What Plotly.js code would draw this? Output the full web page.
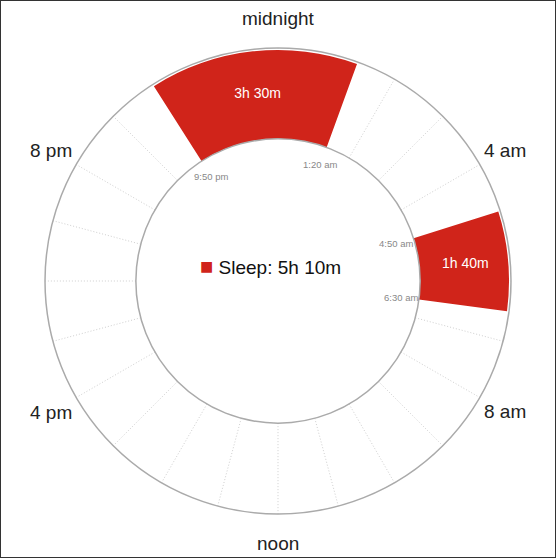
<!DOCTYPE html>
<html>
<head>
<meta charset="utf-8">
<script src="https://cdn.plot.ly/plotly-3.0.1.min.js"></script>
<style>
  body { margin: 0; background: #fff; }
  #frame { width: 554px; height: 556px; border: 1px solid #333; }
  #chart { width: 554px; height: 556px; }
</style>
</head>
<body>
<div id="frame"><div id="chart"></div></div>
<script>
// sleep periods, clock time
const sleepStart = ['21:50', '04:50'];
const sleepEnd = ['01:20', '06:30'];
const hourTicks = [0, 4, 8, 12, 16, 20];
const hourTickText = ['midnight', '4 am', '8 am', 'noon', '4 pm', '8 pm'];

const red = '#d0241a';
const W = 554, H = 556;
const margin = { l: 44, r: 44, t: 47, b: 43 };
const side = W - margin.l - margin.r; // 466, square plot area

const toMin = s => { const p = s.split(':'); return (+p[0]) * 60 + (+p[1]); };
const fmtDur = m => Math.floor(m / 60) + 'h ' + (m % 60) + 'm';
const fmtClock = m => {
    const h = Math.floor(m / 60), mm = m % 60;
    const h12 = h % 12 === 0 ? 12 : h % 12;
    return h12 + ':' + String(mm).padStart(2, '0') + (h < 12 ? ' am' : ' pm');
};

const starts = sleepStart.map(toMin);
const durs = sleepEnd.map((e, i) => (toMin(e) - starts[i] + 1440) % 1440);
const mids = starts.map((s, i) => ((s + durs[i] / 2) % 1440) / 4);   // degrees
const widths = durs.map(d => d / 4);
const total = durs.reduce((a, b) => a + b, 0);

// paper position for an angle (degrees, clockwise from top) at pixel radius
function polarPaper(deg, rpx) {
    const a = deg * Math.PI / 180;
    return { x: 0.5 + rpx * Math.sin(a) / side, y: 0.5 + rpx * Math.cos(a) / side };
}

const annotations = [];
hourTicks.forEach((h, i) => {
    const p = polarPaper(h * 15, 262);
    annotations.push({
        x: p.x, y: p.y, xref: 'paper', yref: 'paper', showarrow: false,
        text: hourTickText[i], xanchor: 'center', yanchor: 'middle',
        font: { size: 19, color: '#222' }
    });
});
starts.forEach((s, i) => {
    [s, (s + durs[i]) % 1440].forEach(m => {
        const p = polarPaper(m / 4, 124);
        annotations.push({
            x: p.x, y: p.y, xref: 'paper', yref: 'paper', showarrow: false,
            text: fmtClock(m), xanchor: 'center', yanchor: 'middle',
            font: { size: 9.5, color: '#888' }
        });
    });
});
annotations.push({
    x: 0.483, y: 0.532, xref: 'paper', yref: 'paper', showarrow: false,
    xanchor: 'center', yanchor: 'middle',
    text: '<span style="color:' + red + ';font-size:22px">■</span> Sleep: ' + fmtDur(total),
    font: { size: 19, color: '#111' }
});

const traces = [
    {
        type: 'barpolar',
        r: durs.map(() => 0.978),
        base: durs.map(() => 0),
        theta: mids,
        width: widths,
        marker: { color: red, line: { width: 0 } },
        hoverinfo: 'skip',
        showlegend: false
    },
    {
        type: 'scatterpolar',
        mode: 'text',
        r: durs.map(() => 0.505),
        theta: mids,
        text: durs.map(fmtDur),
        textfont: { size: 14, color: '#fff' },
        hoverinfo: 'skip',
        showlegend: false
    }
];

const layout = {
    width: W, height: H,
    margin: margin,
    paper_bgcolor: '#fff',
    font: { family: "'Liberation Sans', Arial, sans-serif" },
    showlegend: false,
    polar: {
        domain: { x: [0, 1], y: [0, 1] },
        hole: 0.61,
        bgcolor: '#fff',
        radialaxis: { visible: false, range: [0, 1] },
        angularaxis: {
            rotation: 90,
            direction: 'clockwise',
            thetaunit: 'degrees',
            tickmode: 'array',
            tickvals: Array.from({ length: 24 }, (_, i) => i * 15),
            showticklabels: false,
            ticks: '',
            showline: true,
            linecolor: '#aaa',
            linewidth: 1.5,
            showgrid: true,
            gridcolor: '#cfcfcf',
            griddash: '1px,2px',
            gridwidth: 1
        }
    },
    annotations: annotations
};

Plotly.newPlot('chart', traces, layout, { displayModeBar: false, staticPlot: true });
</script>
</body>
</html>
